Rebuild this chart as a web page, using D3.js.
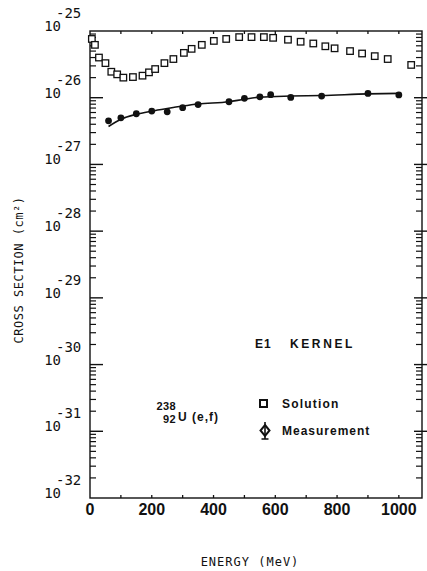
<!DOCTYPE html>
<html>
<head>
<meta charset="utf-8">
<script src="https://cdn.jsdelivr.net/npm/d3@7"></script>
<style>
  body { margin: 0; background: #fff; }
  svg { display: block; }
</style>
</head>
<body>
<svg id="chart" width="427" height="571"></svg>
<script>
// Calculated (solution) cross sections, cm^2, vs electron energy in MeV
const solutionEnergy = [6, 16, 29, 50, 69, 88, 108, 139, 170, 191, 211, 241, 270, 304, 329, 362,
                        401, 441, 483, 523, 563, 593, 641, 682, 723, 762, 792, 842, 881, 922, 964, 1040];
const solutionCS = [7.6e-26, 6.2e-26, 4.0e-26, 3.3e-26, 2.45e-26, 2.24e-26, 2.0e-26, 2.04e-26,
                    2.14e-26, 2.4e-26, 2.69e-26, 3.3e-26, 3.8e-26, 4.7e-26, 5.4e-26, 6.2e-26,
                    7.1e-26, 7.6e-26, 8.1e-26, 8.1e-26, 8.1e-26, 7.9e-26, 7.4e-26, 6.9e-26,
                    6.5e-26, 5.9e-26, 5.5e-26, 5.0e-26, 4.6e-26, 4.2e-26, 3.8e-26, 3.1e-26];

// Measured electrofission cross sections
const measuredEnergy = [60, 100, 150, 200, 250, 300, 350, 450, 500, 550, 585, 650, 750, 900, 1000];
const measuredCS = [4.5e-27, 5.0e-27, 5.75e-27, 6.3e-27, 6.15e-27, 7.1e-27, 7.9e-27, 8.7e-27,
                    9.8e-27, 1.03e-26, 1.11e-26, 1.01e-26, 1.06e-26, 1.16e-26, 1.10e-26];

// Smooth E1-kernel curve through the measurements
const fitEnergy = [60, 100, 150, 200, 250, 300, 350, 450, 500, 550, 650, 750, 900, 1000];
const fitCS = [3.7e-27, 4.75e-27, 5.65e-27, 6.3e-27, 6.9e-27, 7.5e-27, 8.05e-27, 8.7e-27,
               9.5e-27, 1.02e-26, 1.06e-26, 1.08e-26, 1.14e-26, 1.16e-26];

const energyTickLabels = [0, 200, 400, 600, 800, 1000];
const energyMinorTicks = [100, 200, 300, 400, 500, 600, 700, 800, 900, 1000];
const decadeExponents = [-25, -26, -27, -28, -29, -30, -31, -32];

const svg = d3.select("#chart");
const x = d3.scaleLinear().domain([0, 1075]).range([90, 422]);
const y = d3.scaleLog().domain([1e-32, 1e-25]).range([498, 31]);

const x0 = x.range()[0], x1 = x.range()[1];
const yTop = y.range()[1], yBot = y.range()[0];

const ink = "#111";
const frame = svg.append("g").attr("stroke", ink).attr("fill", "none");

// plot frame
frame.append("rect")
  .attr("x", x0).attr("y", yTop)
  .attr("width", x1 - x0).attr("height", yBot - yTop)
  .attr("stroke-width", 1.4);

// logarithmic ticks on left and right edges
const minorVals = [];
for (let e = -32; e < -25; e++) {
  for (let k = 2; k <= 9; k++) minorVals.push(k * Math.pow(10, e));
}
const majorVals = decadeExponents.filter(e => e > -32 && e < -25).map(e => Math.pow(10, e));

frame.selectAll("line.ly-min").data(minorVals).join("line")
  .attr("x1", x0).attr("x2", x0 + 6)
  .attr("y1", d => y(d)).attr("y2", d => y(d))
  .attr("stroke-width", 1.2);
frame.selectAll("line.ly-maj").data(majorVals).join("line")
  .attr("x1", x0).attr("x2", x0 + 13)
  .attr("y1", d => y(d)).attr("y2", d => y(d))
  .attr("stroke-width", 1.4);
frame.selectAll("line.ry-min").data(minorVals).join("line")
  .attr("x1", x1).attr("x2", x1 - 6)
  .attr("y1", d => y(d)).attr("y2", d => y(d))
  .attr("stroke-width", 1.2);
frame.selectAll("line.ry-maj").data(majorVals).join("line")
  .attr("x1", x1 + 5).attr("x2", x1 - 8)
  .attr("y1", d => y(d)).attr("y2", d => y(d))
  .attr("stroke-width", 1.4);

// energy ticks on bottom and top edges
frame.selectAll("line.bx").data(energyMinorTicks).join("line")
  .attr("x1", d => x(d)).attr("x2", d => x(d))
  .attr("y1", yBot).attr("y2", yBot - 3)
  .attr("stroke-width", 1.3);
frame.selectAll("line.tx").data(energyMinorTicks).join("line")
  .attr("x1", d => x(d)).attr("x2", d => x(d))
  .attr("y1", yTop).attr("y2", yTop + 3)
  .attr("stroke-width", 1.3);

// energy tick labels
svg.append("g").selectAll("text").data(energyTickLabels).join("text")
  .attr("x", d => x(d)).attr("y", yBot + 17)
  .attr("text-anchor", "middle")
  .attr("font-family", "Liberation Sans, Arial, sans-serif")
  .attr("font-weight", "bold").attr("font-size", 16)
  .attr("fill", ink)
  .text(d => d);

// decade labels 10^n
const ylab = svg.append("g")
  .attr("font-family", "DejaVu Sans Mono, monospace")
  .attr("font-size", 14).attr("fill", ink);
ylab.selectAll("text.base").data(decadeExponents).join("text")
  .attr("x", 61).attr("y", e => y(Math.pow(10, e)))
  .attr("text-anchor", "end")
  .text("10");
ylab.selectAll("text.exp").data(decadeExponents).join("text")
  .attr("x", 56).attr("y", e => y(Math.pow(10, e)) - 13)
  .text(e => "-" + Math.abs(e));

// axis titles
svg.append("text")
  .attr("transform", "translate(23,270) rotate(-90)")
  .attr("text-anchor", "middle")
  .attr("font-family", "DejaVu Sans Mono, monospace")
  .attr("font-size", 12).attr("letter-spacing", 0.5)
  .attr("fill", ink)
  .text("CROSS SECTION  (cm²)");

svg.append("text")
  .attr("x", 250).attr("y", 566)
  .attr("text-anchor", "middle")
  .attr("font-family", "DejaVu Sans Mono, monospace")
  .attr("font-size", 12).attr("letter-spacing", 1)
  .attr("fill", ink)
  .text("ENERGY (MeV)");

// E1 kernel curve
const line = d3.line()
  .x(d => x(d[0])).y(d => y(d[1]))
  .curve(d3.curveMonotoneX);
svg.append("path")
  .datum(fitEnergy.map((e, i) => [e, fitCS[i]]))
  .attr("d", line)
  .attr("fill", "none").attr("stroke", ink).attr("stroke-width", 1.6);

// solution: open squares
const sq = 6.5;
svg.append("g").selectAll("rect").data(solutionEnergy.map((e, i) => [e, solutionCS[i]])).join("rect")
  .attr("x", d => x(d[0]) - sq / 2).attr("y", d => y(d[1]) - sq / 2)
  .attr("width", sq).attr("height", sq)
  .attr("fill", "#fff").attr("stroke", ink).attr("stroke-width", 1.3);

// measurement: filled dots
svg.append("g").selectAll("circle").data(measuredEnergy.map((e, i) => [e, measuredCS[i]])).join("circle")
  .attr("cx", d => x(d[0])).attr("cy", d => y(d[1]))
  .attr("r", 3.4)
  .attr("fill", ink);

// annotations
const ann = svg.append("g")
  .attr("font-family", "Liberation Sans, Arial, sans-serif")
  .attr("font-weight", "bold").attr("fill", ink);

ann.append("text").attr("x", 255).attr("y", 348).attr("font-size", 12)
  .attr("letter-spacing", 1).text("E1");
ann.append("text").attr("x", 290).attr("y", 348).attr("font-size", 12)
  .attr("letter-spacing", 2.6).text("KERNEL");

// reaction label: 238/92 U (e,f)
ann.append("text").attr("x", 176).attr("y", 410).attr("font-size", 11)
  .attr("text-anchor", "end").attr("letter-spacing", 0.4).text("238");
ann.append("text").attr("x", 176).attr("y", 422.5).attr("font-size", 11)
  .attr("text-anchor", "end").attr("letter-spacing", 0.4).text("92");
ann.append("text").attr("x", 178).attr("y", 421).attr("font-size", 12)
  .attr("letter-spacing", 1).text("U (e,f)");

// legend
const lg = svg.append("g");
lg.append("rect").attr("x", 260).attr("y", 400).attr("width", 7).attr("height", 7)
  .attr("fill", "#fff").attr("stroke", ink).attr("stroke-width", 2);
lg.append("path")
  .attr("d", "M265,425 L269.5,430.5 L265,436 L260.5,430.5 Z")
  .attr("fill", "#fff").attr("stroke", ink).attr("stroke-width", 2);
lg.append("path")
  .attr("d", "M265,422 L265,439 M261.5,439 L268.5,439")
  .attr("fill", "none").attr("stroke", ink).attr("stroke-width", 1.6);
ann.append("text").attr("x", 282).attr("y", 408).attr("font-size", 12)
  .attr("letter-spacing", 1.2).text("Solution");
ann.append("text").attr("x", 282).attr("y", 435).attr("font-size", 12)
  .attr("letter-spacing", 1).text("Measurement");
</script>
</body>
</html>
